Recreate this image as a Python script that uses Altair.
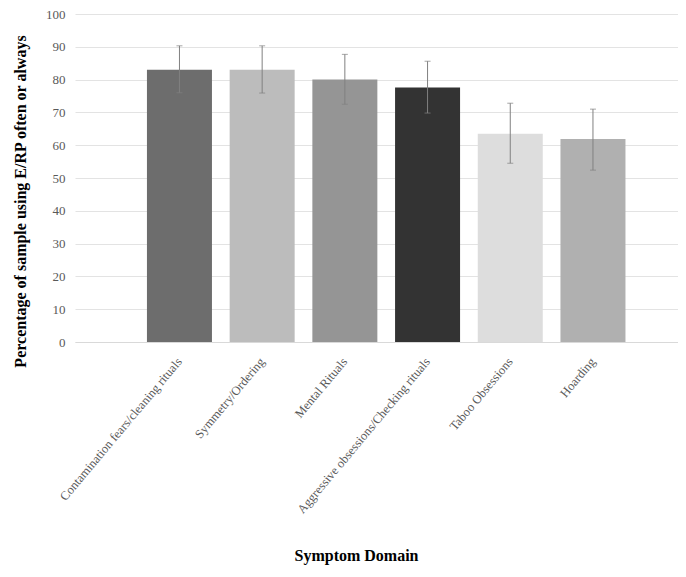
import altair as alt
import pandas as pd

categories = [
    "Contamination fears/cleaning rituals",
    "Symmetry/Ordering",
    "Mental Rituals",
    "Aggressive obsessions/Checking rituals",
    "Taboo Obsessions",
    "Hoarding",
]
values = [83.0, 83.0, 80.0, 77.6, 63.5, 61.9]
err_low = [76.0, 75.9, 72.5, 69.8, 54.5, 52.4]
err_high = [90.3, 90.3, 87.7, 85.6, 72.8, 71.0]
bar_colors = ["#6d6d6d", "#bcbcbc", "#959595", "#333333", "#dddddd", "#b0b0b0"]
y_ticks = [0, 10, 20, 30, 40, 50, 60, 70, 80, 90, 100]

df = pd.DataFrame({
    "domain": categories,
    "pct": values,
    "lo": err_low,
    "hi": err_high,
})

FONT = "Liberation Serif"
Y_TITLE = "Percentage of sample using E/RP often or always"

x_axis = alt.Axis(
    title="Symptom Domain",
    titleFont=FONT,
    titleFontSize=16,
    titleFontWeight="bold",
    titleColor="#000000",
    titleX=281,
    titleY=213,
    titleAlign="center",
    titleBaseline="middle",
    labelAngle=-50,
    labelAlign="right",
    labelBaseline="middle",
    labelPadding=17,
    labelFont=FONT,
    labelFontSize=12.5,
    labelColor="#595959",
    labelLimit=400,
    ticks=False,
    domainColor="#d9d9d9",
    domainWidth=1,
)

y_axis = alt.Axis(
    title=Y_TITLE,
    titleFont=FONT,
    titleFontSize=16,
    titleFontWeight="bold",
    titleColor="#000000",
    titleX=-55,
    titleY=187,
    titleAlign="center",
    titleBaseline="middle",
    values=y_ticks,
    labelOverlap=False,
    labelFont=FONT,
    labelFontSize=13,
    labelColor="#595959",
    labelPadding=10,
    ticks=False,
    domain=False,
    gridColor="#e3e3e3",
    gridWidth=1,
)

x_scale = alt.Scale(paddingInner=0.214, paddingOuter=0.7526, align=0.578)
y_scale = alt.Scale(domain=[0, 100], nice=False)

x_enc = alt.X("domain:N", sort=categories, scale=x_scale, axis=x_axis)

bars = alt.Chart(df).mark_bar().encode(
    x=x_enc,
    y=alt.Y("pct:Q", scale=y_scale, axis=y_axis),
    color=alt.Color("domain:N", sort=categories,
                    scale=alt.Scale(domain=categories, range=bar_colors),
                    legend=None),
)

rules = alt.Chart(df).mark_rule(color="#808080", strokeWidth=1).encode(
    x=x_enc,
    y=alt.Y("lo:Q", scale=y_scale, axis=y_axis),
    y2="hi:Q",
)

caps_hi = alt.Chart(df).mark_tick(color="#808080", thickness=1, size=6).encode(
    x=x_enc,
    y=alt.Y("hi:Q", scale=y_scale, axis=y_axis),
)
caps_lo = alt.Chart(df).mark_tick(color="#808080", thickness=1, size=6).encode(
    x=x_enc,
    y=alt.Y("lo:Q", scale=y_scale, axis=y_axis),
)

chart = alt.layer(bars, rules, caps_hi, caps_lo).properties(
    width=603,
    height=328,
    autosize=alt.AutoSizeParams(type="none"),
    padding={"left": 67, "top": 6, "right": 0, "bottom": 224},
    background="white",
).configure_view(stroke=None)

chart.save("out.html", embed_options={"renderer": "svg", "actions": False})
